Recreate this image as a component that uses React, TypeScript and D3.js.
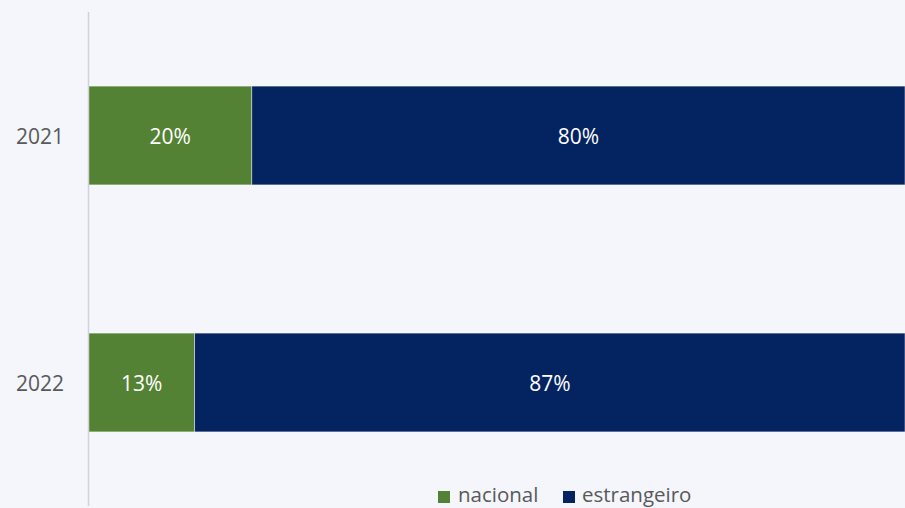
import React from "react";
import * as d3 from "d3";

const years = ["2021", "2022"];
const nacional = [0.2, 0.13];
const estrangeiro = [0.8, 0.87];
const seriesNames = ["nacional", "estrangeiro"];
const colors = ["#548235", "#042361"];

const W = 905;
const H = 508;
const FONT = "'Open Sans', 'Liberation Sans', sans-serif";

export default function App() {
  const x = d3.scaleLinear().domain([0, 1]).range([88.5, 905]);
  const y = d3.scaleBand<string>().domain(years).range([12, 506]).paddingInner(0.6).paddingOuter(0.3);
  const stackData = years.map((yr, i) => ({ year: yr, nacional: nacional[i], estrangeiro: estrangeiro[i] }));
  const stack = d3.stack<any>().keys(seriesNames)(stackData);
  const fmt = d3.format(".0%");

  return (
    <svg width={W} height={H} style={{ position: "absolute", left: 0, top: 0, background: "#f4f6fb" }}>
      <rect x={0} y={0} width={W} height={H} fill="#f4f6fb" />
      {stack.map((s, si) => (
        <g key={s.key}>
          {s.map((d, i) => {
            const yr = years[i];
            const x0 = x(d[0]);
            const x1 = x(d[1]);
            const by = y(yr)!;
            const bh = y.bandwidth();
            return (
              <g key={yr}>
                <rect x={x0} y={by} width={x1 - x0} height={bh} fill={colors[si]} stroke="#ffffff" strokeOpacity={0.6} strokeWidth={0.75} />
                <text x={(x0 + x1) / 2} y={by + bh / 2} textAnchor="middle" dominantBaseline="central" fill="#ffffff" fontFamily={FONT} fontSize={21}>
                  {fmt(d[1] - d[0])}
                </text>
              </g>
            );
          })}
        </g>
      ))}
      <line x1={88.5} x2={88.5} y1={12} y2={506} stroke="#d0d2d8" strokeWidth={1.5} />
      {years.map((yr) => (
        <text key={yr} x={64} y={y(yr)! + y.bandwidth() / 2} textAnchor="end" dominantBaseline="central" fill="#595959" fontFamily={FONT} fontSize={21}>
          {yr}
        </text>
      ))}
      <g>
        <rect x={438} y={491} width={12} height={12} fill={colors[0]} />
        <text x={458} y={502} fill="#595959" fontFamily={FONT} fontSize={20.5}>{seriesNames[0]}</text>
        <rect x={563} y={491} width={12} height={12} fill={colors[1]} />
        <text x={582} y={502} fill="#595959" fontFamily={FONT} fontSize={20.5}>{seriesNames[1]}</text>
      </g>
    </svg>
  );
}
